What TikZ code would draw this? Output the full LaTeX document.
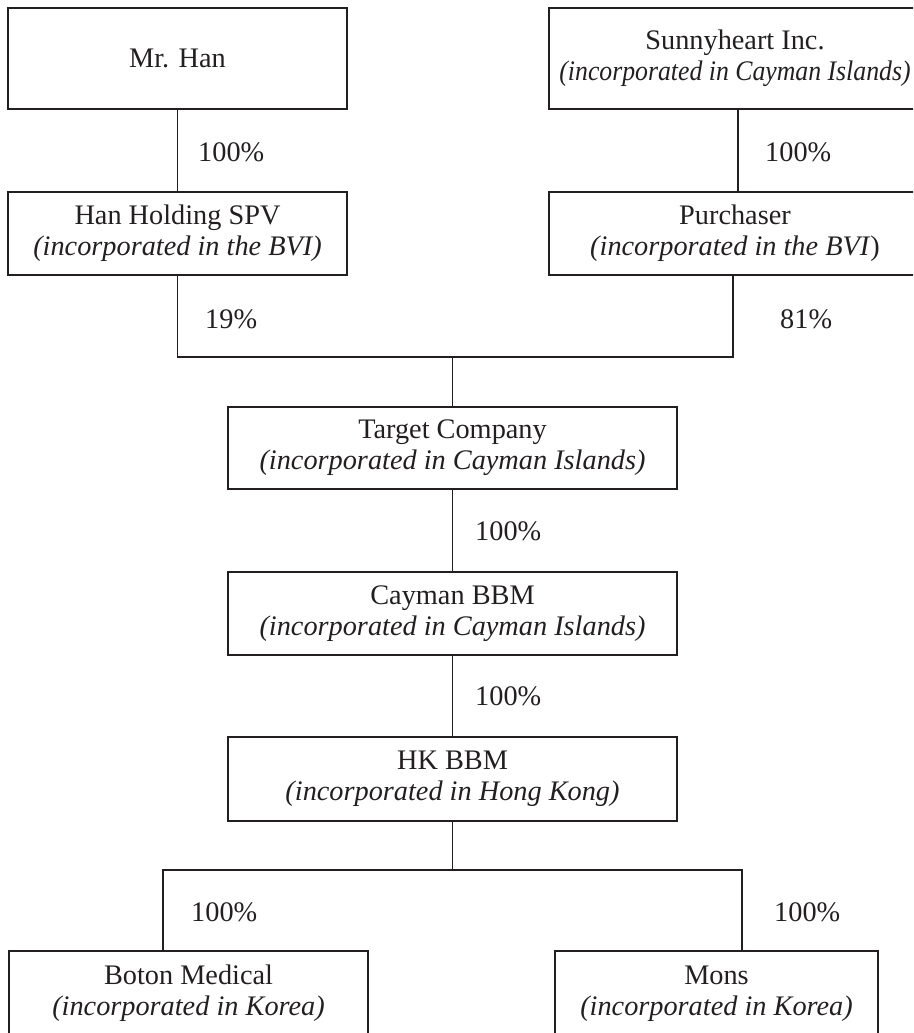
\documentclass[tikz,border=0pt]{standalone}
\usepackage{fontspec}
\setmainfont{Liberation Serif}
\usepackage{graphicx}
\definecolor{ink}{HTML}{231F20}
\tikzset{
  firm/.style={draw=ink, line width=1.7pt, inner sep=0pt, align=center, text=ink},
  pct/.style={anchor=west, inner sep=0pt, text=ink},
  link/.style={draw=ink, line width=1.7pt},
}
\newcommand{\incin}[1]{\textit{(incorporated in #1)}}

\begin{document}
\begin{tikzpicture}[x=1pt,y=-1pt,font=\fontsize{28.3}{31}\selectfont]
\useasboundingbox (0,0) rectangle (913,1033);
\clip (0,0) rectangle (913,1033);
% shareholders
\node[firm, minimum width=339pt, minimum height=101pt] (han) at (177.5,58.5) {Mr. Han};
\node[firm, minimum width=372pt, minimum height=101pt] (sunny) at (735,58.5) {Sunnyheart Inc.\\\scalebox{0.91}[1]{\incin{Cayman Islands}}};
\node[firm, minimum width=339pt, minimum height=83pt] (hanspv) at (177.5,233.5) {Han Holding SPV\\\incin{the BVI}};
\node[firm, minimum width=372pt, minimum height=83pt] (purch) at (735,233.5) {Purchaser\\\textit{(incorporated in the BVI})};
% group companies
\node[firm, minimum width=449pt, minimum height=82pt] (target) at (452.5,448) {Target Company\\\incin{Cayman Islands}};
\node[firm, minimum width=449pt, minimum height=83pt] (cayman) at (452.5,613.5) {Cayman BBM\\\incin{Cayman Islands}};
\node[firm, minimum width=449pt, minimum height=84pt] (hkbbm) at (452.5,779) {HK BBM\\\incin{Hong Kong}};
\node[firm, minimum width=359pt, minimum height=85pt] (boton) at (188.5,993.5) {Boton Medical\\\incin{Korea}};
\node[firm, minimum width=323pt, minimum height=85pt] (mons) at (716.5,993.5) {Mons\\\incin{Korea}};

\coordinate (join) at (452.5,357);
\coordinate (bl) at (163,870);
\coordinate (br) at (742,870);
\coordinate (split) at (452.5,870);

\draw[link] (han.south) -- (hanspv.north);
\draw[link] ([xshift=3pt]sunny.south) -- ([xshift=3pt]sunny.south |- purch.north);
\draw[link] (hanspv.south) |- (join) -| ([xshift=-2pt]purch.south);
\draw[link] (join) -- (target.north);
\draw[link] (target.south) -- (cayman.north);
\draw[link] (cayman.south) -- (hkbbm.north);
\draw[link] (hkbbm.south) -- (split);
\draw[link] (bl |- boton.north) -- (bl) -- (br) -- (br |- mons.north);

\node[pct] (p1) at (198,152) {100\%};
\node[pct] (p2) at (765,152) {100\%};
\node[pct] (p3) at (205,319) {19\%};
\node[pct] (p4) at (780,319) {81\%};
\node[pct] (p5) at (475,531) {100\%};
\node[pct] (p6) at (475,696) {100\%};
\node[pct] (p7) at (191,912) {100\%};
\node[pct] (p8) at (774,912) {100\%};
\end{tikzpicture}
\end{document}
